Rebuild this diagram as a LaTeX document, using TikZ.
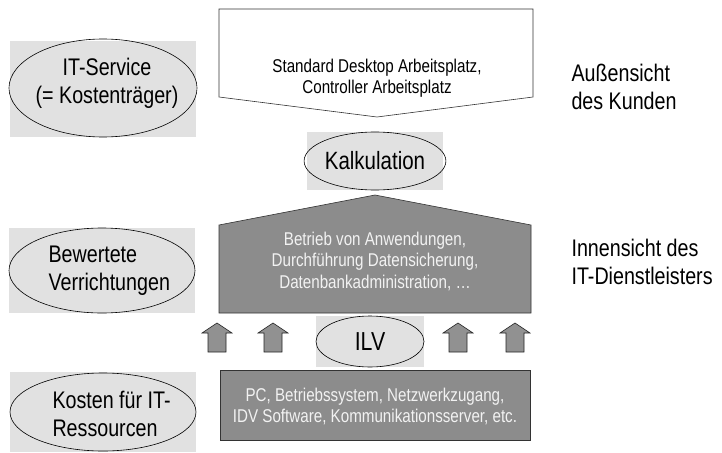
\documentclass[tikz,border=0pt]{standalone}
\usepackage{fontspec}
\setmainfont{Liberation Sans}[FakeStretch=0.82]
\usetikzlibrary{shapes.geometric}
\definecolor{panelgray}{RGB}{225,225,225}
\definecolor{darkfill}{RGB}{140,140,140}
\definecolor{arrowfill}{RGB}{145,145,145}
\definecolor{lighttext}{RGB}{242,242,242}
\begin{document}
\begin{tikzpicture}[x=1pt,y=-1pt,
  panel/.style={fill=panelgray,draw=none},
  oval/.style={ellipse,draw=black,line width=0.6pt,inner sep=0pt},
  bigfont/.style={font=\fontsize{24}{28}\selectfont},
  smallfont/.style={font=\fontsize{18.5}{21.5}\selectfont},
  pentwhite/.style={fill=white,draw=black!80,line width=0.6pt},
  pentdark/.style={fill=darkfill,draw=black!80,line width=0.6pt},
  darktext/.style={smallfont,text=lighttext,align=center},
  sidetext/.style={bigfont,align=left,anchor=west},
  blockup/.style={fill=arrowfill,draw=black!85,line width=0.6pt,line join=miter}
]
\useasboundingbox (0,0) rectangle (722,452);

% left column: grey panels with ovals
\fill[panel] (10,41) rectangle (196,137);
\node[oval,minimum width=188pt,minimum height=98pt] (svcE) at (103,88) {};
\node[bigfont,align=center] (svcT) at (107,83.5) {IT-Service\\(= Kostenträger)};

\fill[panel] (9,228) rectangle (195,313);
\node[oval,minimum width=186pt,minimum height=85pt] (workE) at (102,270.5) {};
\node[bigfont,align=left,anchor=west] (workT) at (45,271) {Bewertete\\Verrichtungen};

\fill[panel] (10,372) rectangle (196,452);
\node[oval,minimum width=186pt,minimum height=78pt] (costE) at (103,412) {};
\node[bigfont,align=left,anchor=west] (costT) at (49,414) {Kosten für IT-\\Ressourcen};

% customer view: white block pointing down
\draw[pentwhite] (219,9) -- (533,9) -- (533,97) -- (377,117) -- (219,97) -- cycle;
\node[smallfont,align=center] (prodT) at (377,78) {Standard Desktop Arbeitsplatz,\\Controller Arbeitsplatz};

% Kalkulation
\fill[panel] (307,132) rectangle (443,190);
\node[oval,font=\fontsize{25}{28}\selectfont,minimum width=136pt,minimum height=58pt] (calcE) at (375,161) {Kalkulation};

% service provider view: dark block pointing up
\draw[pentdark] (219,225) -- (375,195) -- (531,225) -- (531,313) -- (219,313) -- cycle;
\node[darktext] (actT) at (375,261) {Betrieb von Anwendungen,\\Durchführung Datensicherung,\\Datenbankadministration, …};

% ILV with block arrows
\fill[panel] (316,316) rectangle (424,367);
\node[oval,font=\fontsize{26}{28}\selectfont,minimum width=108pt,minimum height=51pt] (ilvE) at (370,341.5) {ILV};
\foreach \cx/\nm in {217/a1,273/a2,458/a3,515/a4}{
  \draw[blockup] (\cx-9,352) -- (\cx-9,333) -- (\cx-15,333) -- (\cx,323)
     -- (\cx+15,333) -- (\cx+9,333) -- (\cx+9,352) -- cycle;
  \coordinate (\nm) at (\cx,337);
}

% resources block
\node[fill=darkfill,draw=black!80,line width=0.6pt,minimum width=310pt,minimum height=70pt,inner sep=0pt] (resB) at (375,405) {};
\node[darktext] (resT) at (375,406.5) {PC, Betriebssystem, Netzwerkzugang,\\IDV Software, Kommunikationsserver, etc.};

% right column labels
\node[sidetext] (outT) at (568,87) {Außensicht\\des Kunden};
\node[sidetext] (inT) at (568,262) {Innensicht des\\IT-Dienstleisters};
\end{tikzpicture}
\end{document}
